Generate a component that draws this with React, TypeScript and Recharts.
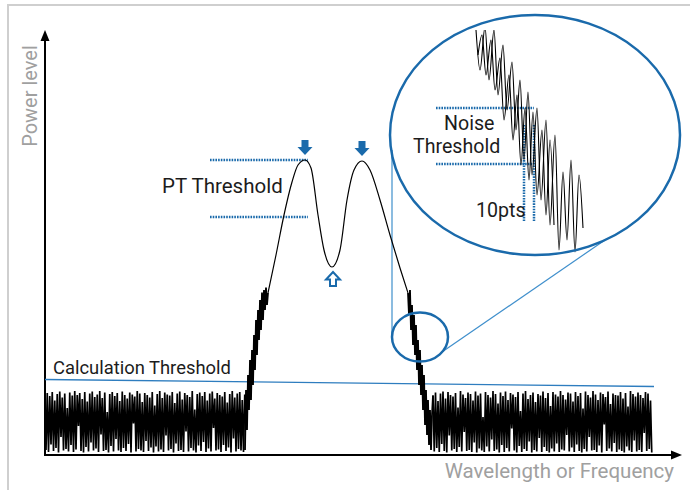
import React from 'react';
import { ComposedChart, Line, XAxis, YAxis, ReferenceLine, ReferenceDot } from 'recharts';

// noise floor samples left of the signal, one every 0.25 units starting at 0.2
const noiseLeft = [
  1.0, 12.4, 0.6, 11.8, 2.1, 12.6, 0.8, 10.9, 1.4, 12.2,
  0.5, 12.7, 3.6, 11.5, 0.9, 12.3, 1.2, 9.4, 0.7, 12.5,
  2.0, 11.9, 0.6, 12.8, 1.1, 12.0, 5.8, 12.4, 0.8, 11.2,
  0.5, 12.6, 1.6, 10.7, 0.7, 12.3, 2.5, 12.7, 0.9, 11.6,
  1.3, 12.1, 0.6, 12.8, 4.1, 11.4, 0.8, 12.5, 1.0, 8.6,
  0.5, 12.2, 1.8, 12.6, 0.7, 11.8, 3.2, 12.4, 0.9, 10.8,
  0.6, 12.7, 1.4, 12.0, 0.8, 11.3, 2.2, 12.5, 0.5, 12.1,
  6.3, 11.7, 0.7, 12.8, 1.2, 12.3, 0.9, 10.6, 0.6, 12.4,
  2.8, 12.0, 0.8, 11.5, 1.5, 12.6, 0.5, 9.9, 1.7, 12.2,
  0.7, 12.8, 1.1, 11.4, 0.6, 12.5, 3.9, 12.1, 0.9, 11.9,
  1.2, 12.6, 0.5, 10.4, 2.3, 12.3, 0.8, 12.7, 1.0, 11.1,
  0.6, 12.4, 4.7, 12.0, 0.7, 11.6, 1.4, 12.8, 0.9, 9.1,
  0.5, 12.2, 1.9, 12.5, 0.8, 11.8, 2.6, 12.6, 0.6, 10.9,
  1.3, 12.3, 0.7, 12.7, 5.4, 11.3, 0.9, 12.4, 1.1, 12.0,
  0.6, 11.7, 2.0, 12.6, 0.8, 10.5, 1.5, 12.2, 0.5, 12.8,
  3.3, 11.5, 0.7, 12.3, 1.2, 12.6, 0.9, 11.0, 0.6, 12.1,
];

// noise floor samples right of the signal, one every 0.25 units starting at 77.6
const noiseRight = [
  11.9, 0.7, 12.5, 1.4, 10.8, 0.6, 12.3, 2.2, 12.7, 0.8,
  11.3, 0.5, 12.6, 3.9, 12.0, 0.9, 11.7, 1.2, 12.4, 0.6,
  9.5, 1.6, 12.8, 0.7, 12.1, 4.6, 11.4, 0.8, 12.5, 1.0,
  12.2, 0.6, 10.9, 2.5, 12.7, 0.5, 11.9, 1.3, 12.3, 0.9,
  7.6, 0.6, 12.6, 1.7, 12.0, 0.7, 11.5, 3.1, 12.8, 0.8,
  12.2, 1.1, 10.3, 0.5, 12.5, 2.0, 11.8, 0.6, 12.7, 1.4,
  11.0, 0.7, 12.4, 5.3, 12.1, 0.9, 11.6, 0.5, 12.6, 1.8,
  8.8, 0.6, 12.3, 1.2, 12.8, 0.8, 11.2, 2.7, 12.0, 0.5,
  12.5, 1.0, 10.6, 0.7, 12.2, 3.4, 11.9, 0.6, 12.7, 1.6,
  11.4, 0.8, 12.4, 0.5, 9.8, 1.3, 12.6, 0.7, 12.1, 2.3,
  11.7, 0.6, 12.8, 1.1, 12.0, 0.9, 11.1, 4.0, 12.5, 0.7,
  12.3, 1.5, 10.7, 0.6, 12.6, 2.1, 11.8, 0.8, 12.4, 0.5,
  9.3, 1.2, 12.7, 0.7, 12.0, 3.6, 11.5, 0.9, 12.8, 1.0,
  12.1, 0.6, 11.0, 1.9, 12.5, 0.5, 12.2, 6.1, 11.6, 0.8,
  12.7, 1.3, 10.2, 0.7, 12.3, 2.4, 12.0, 0.6, 11.9, 1.1,
  12.6, 0.8, 11.3, 0.5, 12.4, 1.7, 9.7, 0.9, 12.8, 0.6,
  12.2, 2.9, 11.7, 0.7, 12.5, 1.0, 12.0, 0.6, 11.4, 4.4,
  12.6, 0.8, 12.3, 1.2, 10.9, 0.5,
];

// noisy rising edge
const riseX = [40.0, 40.2, 40.4, 40.6, 40.8, 41.0, 41.2, 41.4, 41.6, 41.8, 42.0, 42.2,
  42.4, 42.6, 42.8, 43.0, 43.2, 43.4, 43.6, 43.8, 44.0, 44.2, 44.4, 44.6];
const riseY = [1, 13, 5, 16, 9, 19, 11, 21, 14, 24, 17, 27,
  20, 29, 23, 31, 25, 32.5, 27, 33, 29, 33.5, 30, 32.4];

// smooth double peak
const peakX = [44.6, 46.2, 47.8, 49.4, 50.6, 52.0, 53.2, 54.6, 55.8, 57.4, 59.0, 60.4,
  61.8, 63.4, 65.0, 67.0, 69.0, 71.0, 72.6];
const peakY = [32.4, 40, 48, 54.6, 58, 59, 57.4, 48, 41, 37.6, 41, 51,
  57, 58.8, 57, 51, 44, 37.4, 32.4];

// noisy falling edge
const fallX = [72.6, 72.8, 73.0, 73.2, 73.4, 73.6, 73.8, 74.0, 74.2, 74.4, 74.6, 74.8,
  75.0, 75.2, 75.4, 75.6, 75.8, 76.0, 76.2, 76.4, 76.6, 76.8, 77.0, 77.2, 77.4, 77.6];
const fallY = [32.4, 28, 33, 25, 30, 22, 28, 20, 26, 17, 23, 14,
  21, 12, 18, 9, 16, 6, 13, 4, 11, 2, 9, 1, 8, 11.9];

// zoomed view of the falling edge, two overlapping sweeps
const insetAX = [86.2, 87.0, 88.0, 88.8, 89.8, 90.6, 91.6, 92.4, 93.4, 94.2, 95.0, 95.8,
  96.6, 97.4, 98.4, 99.2, 100.2, 101.0, 102.0, 102.8, 103.6, 104.4, 105.2, 106.0,
  106.8, 107.6];
const insetAY = [85.0, 77.0, 85.6, 75.0, 85.0, 72.0, 82.0, 69.0, 78.6, 65.0, 75.0, 59.0,
  72.6, 56.0, 69.4, 51.0, 67.0, 46.0, 64.0, 41.0, 56.6, 43.0, 59.0, 40.6,
  56.0, 45.4];
const insetBX = [86.6, 87.4, 88.2, 89.2, 90.0, 91.0, 91.8, 92.8, 93.6, 94.4, 95.2, 96.0,
  96.8, 97.6, 98.4, 99.4, 100.2, 101.0, 101.8];
const insetBY = [80.0, 84.0, 76.0, 83.0, 73.0, 79.4, 67.0, 76.0, 63.0, 72.0, 58.0, 69.4,
  55.0, 68.6, 52.0, 65.0, 48.0, 63.0, 46.0];

const pair = (xs: number[], ys: number[]) => xs.map((x, i) => ({ x, y: ys[i] }));
const noiseLeftData = noiseLeft.map((y, i) => ({ x: +(0.2 + i * 0.25).toFixed(2), y }));
const noiseRightData = noiseRight.map((y, i) => ({ x: +(77.6 + i * 0.25).toFixed(2), y }));
const riseData = pair(riseX, riseY);
const peakData = pair(peakX, peakY);
const fallData = pair(fallX, fallY);
const insetAData = pair(insetAX, insetAY);
const insetBData = pair(insetBX, insetBY);

const BLUE = '#1a6aab';
const LIGHT_BLUE = '#3f8fcc';
const FONT = 'Roboto, "Noto Sans", sans-serif';

const textShape = (text: string, size: number, color = '#1c1c1c', anchor = 'start', rotate = 0) =>
  (p: any) => (
    <text
      x={p.cx}
      y={p.cy}
      fontSize={size}
      fill={color}
      fontFamily={FONT}
      textAnchor={anchor}
      transform={rotate ? `rotate(${rotate} ${p.cx} ${p.cy})` : undefined}
    >
      {text}
    </text>
  );

const ellipseShape = (rx: number, ry: number) => (p: any) => (
  <ellipse cx={p.cx} cy={p.cy} rx={rx} ry={ry} fill="none" stroke={BLUE} strokeWidth={2.5} />
);

const downArrow = (p: any) => {
  const { cx, cy } = p;
  return (
    <polygon
      points={`${cx - 3.5},${cy - 15} ${cx + 3.5},${cy - 15} ${cx + 3.5},${cy - 8} ${cx + 7.5},${cy - 8} ${cx},${cy} ${cx - 7.5},${cy - 8} ${cx - 3.5},${cy - 8}`}
      fill={BLUE}
    />
  );
};

const upArrow = (p: any) => {
  const { cx, cy } = p;
  return (
    <polygon
      points={`${cx},${cy} ${cx + 7},${cy + 7.5} ${cx + 3},${cy + 7.5} ${cx + 3},${cy + 14} ${cx - 3},${cy + 14} ${cx - 3},${cy + 7.5} ${cx - 7},${cy + 7.5}`}
      fill="#fff"
      stroke={BLUE}
      strokeWidth={2}
    />
  );
};

const upHead = (p: any) => (
  <polygon points={`${p.cx},${p.cy} ${p.cx + 4.5},${p.cy + 11} ${p.cx - 4.5},${p.cy + 11}`} fill="#000" />
);
const rightHead = (p: any) => (
  <polygon points={`${p.cx},${p.cy} ${p.cx - 11},${p.cy - 4.5} ${p.cx - 11},${p.cy + 4.5}`} fill="#000" />
);

const dotted = { stroke: BLUE, strokeWidth: 2.5, strokeDasharray: '1.6 1.1', ifOverflow: 'visible' as const };
const trace = { type: 'linear' as const, stroke: '#000', dot: false, activeDot: false, isAnimationActive: false };

export default function App() {
  return (
    <div style={{ position: 'absolute', left: 0, top: 0, width: 690, height: 490, background: '#fff', overflow: 'hidden' }}>
      <div
        style={{
          position: 'absolute', left: 7, top: 4, width: 700, height: 500,
          borderLeft: '2px solid #cfcfcf', borderTop: '2px solid #cfcfcf',
        }}
      />
      <div style={{ position: 'absolute', left: 0, top: 0 }}>
        <ComposedChart width={690} height={490} margin={{ top: 30, right: 8, bottom: 35, left: 45 }}>
          <XAxis type="number" dataKey="x" domain={[0, 127.4]} hide allowDataOverflow />
          <YAxis type="number" dataKey="y" domain={[0, 85]} hide allowDataOverflow />

          {/* axes */}
          <ReferenceLine segment={[{ x: 0, y: -0.2 }, { x: 0, y: 83 }]} stroke="#000" strokeWidth={2} ifOverflow="visible" />
          <ReferenceLine segment={[{ x: -0.2, y: 0 }, { x: 125.6, y: 0 }]} stroke="#000" strokeWidth={2} ifOverflow="visible" />
          <ReferenceDot x={0} y={85} r={0} shape={upHead} ifOverflow="visible" />
          <ReferenceDot x={127.4} y={0} r={0} shape={rightHead} ifOverflow="visible" />

          {/* calculation threshold */}
          <ReferenceLine segment={[{ x: 0, y: 15.1 }, { x: 121.8, y: 13.7 }]} stroke="#2e7dbf" strokeWidth={1.3} ifOverflow="visible" />

          {/* PT threshold */}
          <ReferenceLine segment={[{ x: 33, y: 59 }, { x: 52.6, y: 59 }]} {...dotted} />
          <ReferenceLine segment={[{ x: 33, y: 47.6 }, { x: 52.6, y: 47.6 }]} {...dotted} />

          {/* noise threshold + 10pts in the inset */}
          <ReferenceLine segment={[{ x: 78.2, y: 69.4 }, { x: 97.8, y: 69.4 }]} {...dotted} />
          <ReferenceLine segment={[{ x: 78.2, y: 58.2 }, { x: 97.4, y: 58.2 }]} {...dotted} />
          <ReferenceLine segment={[{ x: 95.8, y: 66 }, { x: 95.8, y: 46.6 }]} {...dotted} />
          <ReferenceLine segment={[{ x: 97.8, y: 66 }, { x: 97.8, y: 46.6 }]} {...dotted} />

          {/* zoom connectors */}
          <ReferenceLine segment={[{ x: 69.4, y: 61 }, { x: 69.4, y: 23.6 }]} stroke={LIGHT_BLUE} strokeWidth={1.2} ifOverflow="visible" />
          <ReferenceLine segment={[{ x: 79.4, y: 20.6 }, { x: 112, y: 43 }]} stroke={LIGHT_BLUE} strokeWidth={1.2} ifOverflow="visible" />

          <Line data={noiseLeftData} dataKey="y" strokeWidth={1.7} {...trace} />
          <Line data={riseData} dataKey="y" strokeWidth={1.8} {...trace} />
          <Line data={peakData} dataKey="y" strokeWidth={1.2} {...trace} type="monotone" />
          <Line data={fallData} dataKey="y" strokeWidth={1.8} {...trace} />
          <Line data={noiseRightData} dataKey="y" strokeWidth={1.7} {...trace} />
          <Line data={insetAData} dataKey="y" strokeWidth={1.1} {...trace} type="monotone" />
          <Line data={insetBData} dataKey="y" strokeWidth={1.1} {...trace} type="monotone" />

          {/* circles */}
          <ReferenceDot x={98} y={64} r={0} shape={ellipseShape(145, 120)} ifOverflow="visible" />
          <ReferenceDot x={75} y={23.6} r={0} shape={ellipseShape(28, 24.5)} ifOverflow="visible" />

          {/* peak / valley markers */}
          <ReferenceDot x={52} y={60} r={0} shape={downArrow} ifOverflow="visible" />
          <ReferenceDot x={63.4} y={59.8} r={0} shape={downArrow} ifOverflow="visible" />
          <ReferenceDot x={57.6} y={36.6} r={0} shape={upArrow} ifOverflow="visible" />

          {/* labels */}
          <ReferenceDot x={1.6} y={16.2} r={0} shape={textShape('Calculation Threshold', 18.4)} ifOverflow="visible" />
          <ReferenceDot x={23.4} y={52.4} r={0} shape={textShape('PT Threshold', 20.5)} ifOverflow="visible" />
          <ReferenceDot x={79.8} y={65} r={0} shape={textShape('Noise', 19.6)} ifOverflow="visible" />
          <ReferenceDot x={73.6} y={60.4} r={0} shape={textShape('Threshold', 19.6)} ifOverflow="visible" />
          <ReferenceDot x={86.2} y={47.6} r={0} shape={textShape('10pts', 19.6)} ifOverflow="visible" />
          <ReferenceDot x={-1.6} y={71.8} r={0} shape={textShape('Power level', 20, '#a0a0a0', 'middle', -90)} ifOverflow="visible" />
          <ReferenceDot x={125.8} y={-4.6} r={0} shape={textShape('Wavelength or Frequency', 20.5, '#a0a0a0', 'end')} ifOverflow="visible" />
        </ComposedChart>
      </div>
    </div>
  );
}
